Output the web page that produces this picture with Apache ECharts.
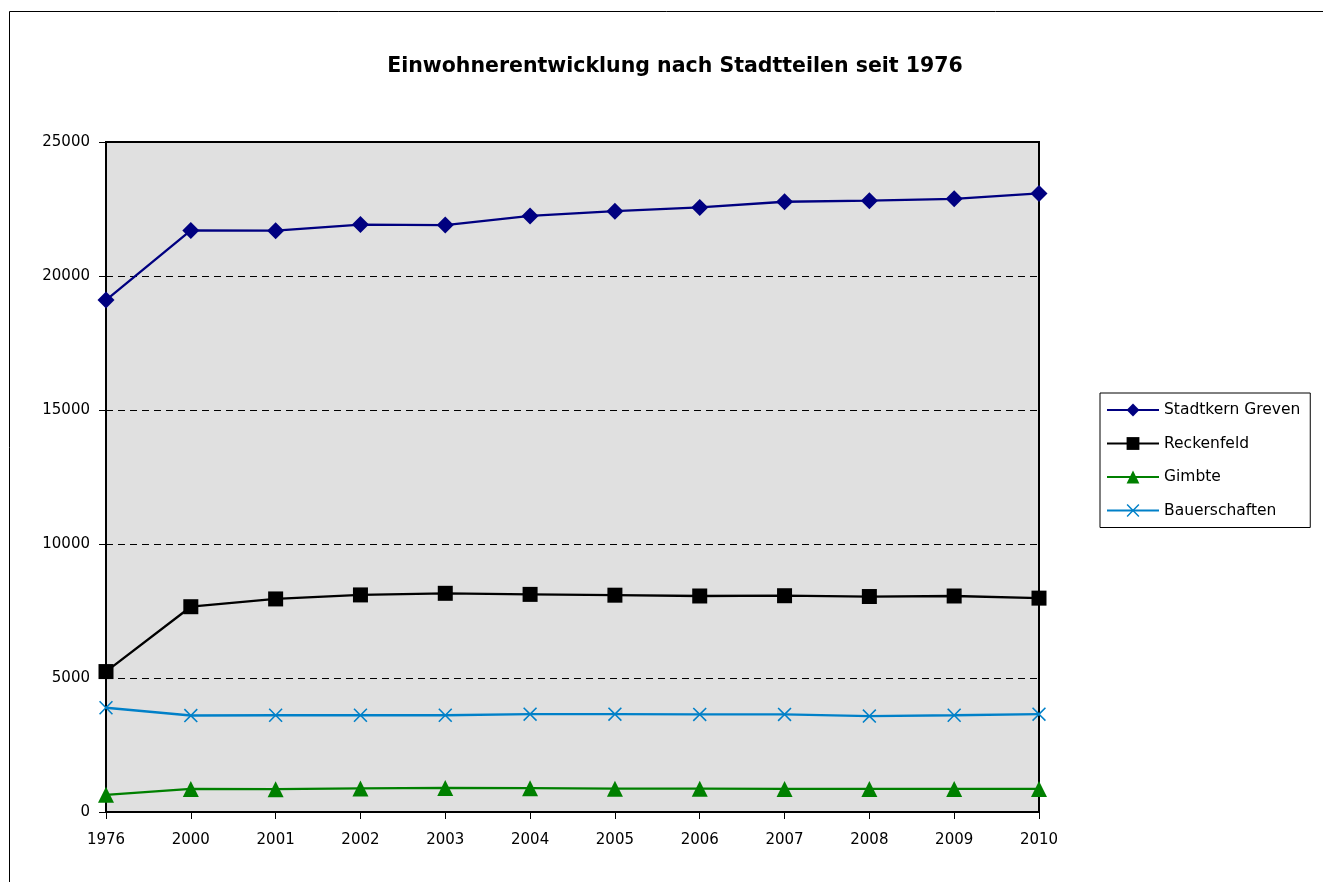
<!DOCTYPE html>
<html>
<head>
<meta charset="utf-8">
<script src="https://cdn.jsdelivr.net/npm/echarts@6/dist/echarts.min.js"></script>
<style>
html,body{margin:0;padding:0;background:#fff;}
#c{width:1323px;height:882px;}
</style>
</head>
<body>
<div id="c"></div>
<script>
const years = ['1976','2000','2001','2002','2003','2004','2005','2006','2007','2008','2009','2010'];
const stadtkern = [19100,21700,21690,21920,21900,22240,22420,22560,22770,22810,22880,23080];
const reckenfeld = [5240,7660,7950,8100,8160,8120,8090,8060,8070,8040,8060,7980];
const gimbte = [640,860,850,880,900,890,870,870,860,860,860,860];
const bauerschaften = [3890,3600,3610,3610,3610,3650,3650,3640,3640,3580,3610,3650];

const xPath = 'path://M0,0.8L0.8,0L5,4.2L9.2,0L10,0.8L5.8,5L10,9.2L9.2,10L5,5.8L0.8,10L0,9.2L4.2,5Z';
const font = 'DejaVu Sans';

const chart = echarts.init(document.getElementById('c'), null, {renderer:'canvas'});
chart.setOption({
  backgroundColor:'#fff',
  animation:false,
  textStyle:{fontFamily:font, color:'#000'},
  title:{
    text:'Einwohnerentwicklung nach Stadtteilen seit 1976',
    left:670, top:51, textAlign:'center',
    textStyle:{fontFamily:font, fontSize:20.5, fontWeight:'bold', color:'#000'}
  },
  graphic:[{
    type:'rect', shape:{x:9.5, y:11.5, width:1330, height:890},
    style:{fill:'none', stroke:'#000', lineWidth:1}, silent:true, z:-1
  }],
  grid:{
    left:106, right:284, top:142, bottom:70,
    show:true, backgroundColor:'#e0e0e0', borderColor:'#000', borderWidth:2
  },
  legend:{
    orient:'vertical', left:1100, top:393,
    backgroundColor:'#fff', borderColor:'#000', borderWidth:1,
    padding:[9,10,9,6], itemGap:17.5, itemWidth:52, itemHeight:16,
    textStyle:{fontFamily:font, fontSize:15.5, color:'#000'},
    data:['Stadtkern Greven','Reckenfeld','Gimbte','Bauerschaften']
  },
  xAxis:{
    type:'category', data:years, boundaryGap:false,
    axisLine:{lineStyle:{color:'#000', width:2}},
    axisTick:{show:true, alignWithLabel:true, length:7, lineStyle:{color:'#000'}},
    axisLabel:{fontFamily:font, fontSize:15, color:'#000', margin:21},
    splitLine:{show:false}
  },
  yAxis:{
    type:'value', min:0, max:25000, interval:5000,
    axisLine:{show:true, lineStyle:{color:'#000', width:2}},
    axisTick:{show:true, length:7, inside:false, lineStyle:{color:'#000'}},
    axisLabel:{fontFamily:font, fontSize:15, color:'#000', margin:16, formatter:function(v){return String(v);}},
    splitLine:{show:true, showMaxLine:false, showMinLine:false, lineStyle:{color:'#000', type:[7,5], width:1}}
  },
  series:[
    {name:'Stadtkern Greven', type:'line', data:stadtkern, symbol:'diamond', symbolSize:17,
      lineStyle:{color:'#000080', width:2.3}, itemStyle:{color:'#000080'}},
    {name:'Reckenfeld', type:'line', data:reckenfeld, symbol:'rect', symbolSize:15,
      lineStyle:{color:'#000', width:2.3}, itemStyle:{color:'#000'}},
    {name:'Gimbte', type:'line', data:gimbte, symbol:'triangle', symbolSize:16,
      lineStyle:{color:'#008000', width:2.3}, itemStyle:{color:'#008000'}},
    {name:'Bauerschaften', type:'line', data:bauerschaften, symbol:xPath, symbolSize:14,
      lineStyle:{color:'#0080c8', width:2.3}, itemStyle:{color:'#0080c8'}}
  ]
});
</script>
</body>
</html>
